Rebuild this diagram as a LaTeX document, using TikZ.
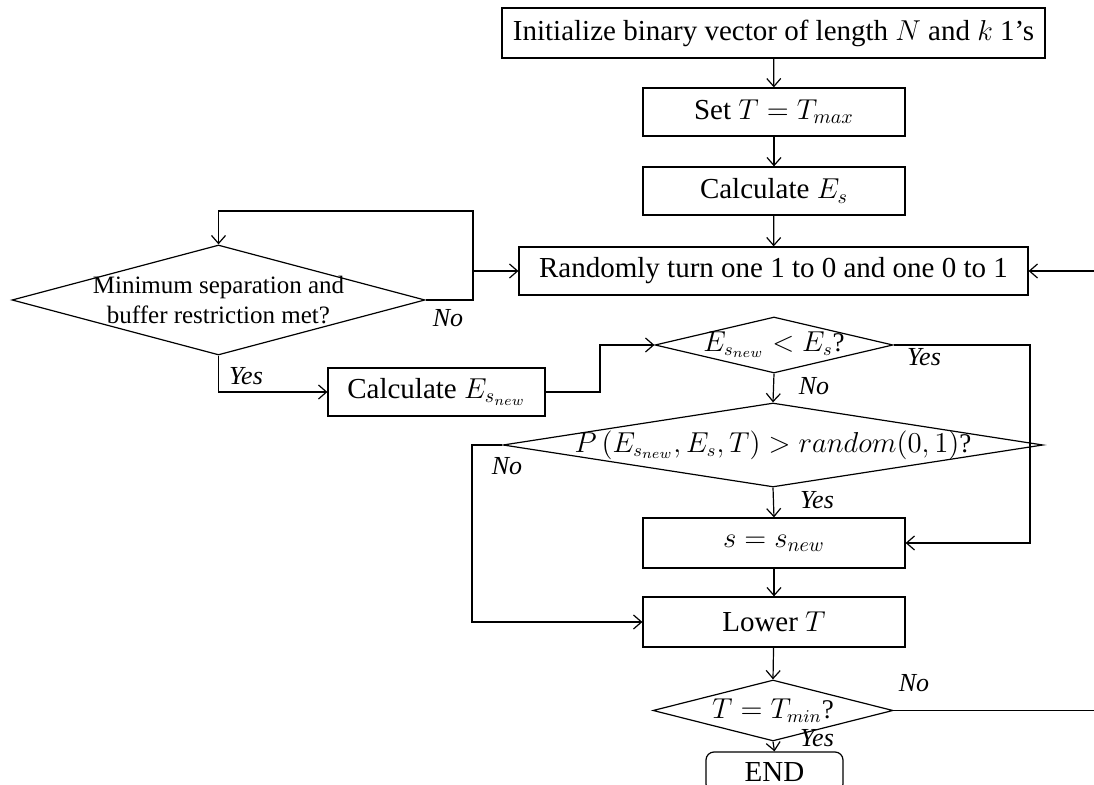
\documentclass[tikz,border=0pt]{standalone}
\usepackage{fontspec}
\setmainfont{Liberation Serif}
\usetikzlibrary{shapes.geometric,arrows.meta}
\begin{document}
\begin{tikzpicture}[x=0.5pt,y=-0.5pt,
  box/.style={draw, line width=0.6pt, inner sep=0pt, font=\fontsize{14.5}{17}\selectfont},
  dec/.style={draw, diamond, line width=0.6pt, inner sep=0pt},
  dtext/.style={inner sep=0pt, font=\fontsize{13.5}{16}\selectfont},
  lbl/.style={inner sep=0pt, font=\fontsize{13}{15}\selectfont\itshape},
  arr/.style={-{Straight Barb[length=4pt,width=7pt]}, line width=0.6pt},
  ln/.style={line width=0.6pt}]
\useasboundingbox (0,0) rectangle (1094,785);

\node[box, minimum width=271.5pt, minimum height=25pt] (init) at (773.5,33) {Initialize binary vector of length $N$ and $k$ 1’s};
\node[box, minimum width=131pt, minimum height=24pt] (set) at (774,112) {Set $T = T_{max}$};
\node[box, minimum width=131pt, minimum height=24pt] (calc) at (774,191) {Calculate $E_s$};
\node[box, minimum width=254.5pt, minimum height=24pt] (rand) at (773.5,271) {Randomly turn one 1 to 0 and one 0 to 1};
\node[dec, minimum width=206.5pt, minimum height=55pt] (d1) at (218.5,300) {};
\node[dtext, align=center, font=\fontsize{12.5}{15}\selectfont] (d1t) at (d1.center) {Minimum separation and\\buffer restriction met?};
\node[box, minimum width=108.5pt, minimum height=24pt] (calcn) at (436.5,392) {Calculate $E_{s_{new}}$};
\node[dec, minimum width=119pt, minimum height=28pt] (d2) at (774,345) {};
\node[dtext] (d2t) at (d2.center) {$E_{s_{new}} < E_s$?};
\node[dec, minimum width=270pt, minimum height=42pt] (d3) at (773,445) {};
\node[dtext] (d3t) at (d3.center) {$P\left(E_{s_{new}}, E_s, T\right) > random(0,1)$?};
\node[box, minimum width=131pt, minimum height=25pt] (snew) at (774,543) {$s = s_{new}$};
\node[box, minimum width=131pt, minimum height=25pt] (lower) at (774,622) {Lower $T$};
\node[dec, minimum width=120pt, minimum height=30.5pt] (d4) at (773,710.5) {};
\node[dtext] (d4t) at (d4.center) {$T = T_{min}$?};
\node[box, rounded corners=4pt, minimum width=68.5pt, minimum height=20pt] (end) at (774.5,772) {END};

\coordinate (rin) at (1094,271);
\coordinate (loopR) at (473,211);
\coordinate (j1) at (600,0);
\coordinate (j2) at (1030,0);
\coordinate (j3) at (472,0);
\coordinate (rout) at (1094,0);

\draw[arr] (init) -- (set);
\draw[arr] (set) -- (calc);
\draw[arr] (calc) -- (rand);
\draw[arr] (rin) -- (rand.east);
\draw[arr] (d1.east) -| (loopR) -| (d1.north);
\draw[arr] (rand.west -| loopR) -- (rand.west);
\draw[arr] (d1.south) |- (calcn.west);
\draw[arr] (calcn.east) -- (calcn.east -| j1) |- (d2.west);
\draw[arr] (d2.east) -- (d2.east -| j2) |- (snew.east);
\draw[arr] (d2.south) -- (d3.north);
\draw[arr] (d3.west) -- (d3.west -| j3) |- (lower.west);
\draw[arr] (d3.south) -- (snew.north);
\draw[arr] (snew) -- (lower);
\draw[arr] (lower) -- (d4.north);
\draw[arr] (d4.south) -- (end.north);
\draw[ln] (d4.east) -- (d4.east -| rout);

\node[lbl] (l1) at (448,318) {No};
\node[lbl] (l2) at (246,376) {Yes};
\node[lbl] (l3) at (924,357) {Yes};
\node[lbl] (l4) at (814,386) {No};
\node[lbl] (l5) at (507,466) {No};
\node[lbl] (l6) at (817,500) {Yes};
\node[lbl] (l7) at (914,683) {No};
\node[lbl] (l8) at (817,738) {Yes};
\end{tikzpicture}
\end{document}
